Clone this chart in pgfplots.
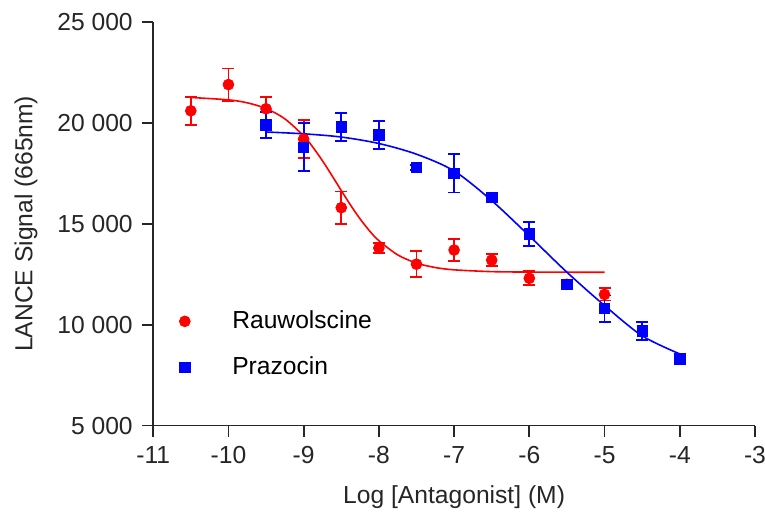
\documentclass[border=0pt]{standalone}
\usepackage{fontspec}
\setmainfont{Liberation Sans}
\usepackage{pgfplots}
\pgfplotsset{compat=1.18}

\pgfplotstableread{
x     y      e
-10.5 20600  700
-10   21900  800
-9.5  20700  600
-9    19200  950
-8.5  15800  800
-8    13800  250
-7.5  13000  650
-7    13700  550
-6.5  13200  300
-6    12300  350
-5.5  12000  200
-5    11500  300
}\rauw

\pgfplotstableread{
x     y      e
-9.5  19900  650
-9    18800  1200
-8.5  19800  700
-8    19400  700
-7.5  17800  120
-7    17500  950
-6.5  16300  150
-6    14500  600
-5.5  12000  200
-5    10800  650
-4.5  9700   450
-4    8300   100
}\praz

\begin{document}
\begin{tikzpicture}
\begin{axis}[
    scale only axis,
    width=300.5pt, height=201.5pt,
    xmin=-11, xmax=-3, ymin=5000, ymax=25000,
    scaled ticks=false,
    axis lines=left,
    axis line style={-, line width=0.9pt, black!85},
    tick style={line width=0.9pt, black!85},
    tick align=outside,
    major tick length=5.5pt,
    xtick={-11,-10,...,-3},
    xticklabels={-11,-10,-9,-8,-7,-6,-5,-4,-3},
    ytick={5000,10000,15000,20000,25000},
    yticklabels={5 000,10 000,15 000,20 000,25 000},
    every tick label/.append style={font=\fontsize{12.3}{14}\selectfont, text=black!85},
    xticklabel style={yshift=-1.5pt},
    yticklabel style={xshift=-1.2pt},
    xlabel={Log [Antagonist] (M)},
    ylabel={LANCE Signal (665nm)},
    label style={font=\fontsize{12.3}{14}\selectfont, text=black!85},
    xlabel style={yshift=-4pt},
    ylabel style={yshift=3pt},
    clip=false,
    legend style={draw=none, fill=none, at={(axis cs:-10.75,11000)}, anchor=north west,
        font=\fontsize{12.3}{14}\selectfont, row sep=10.5pt,
        nodes={inner sep=1pt}},
    legend cell align=left,
    legend image code/.code={\draw[#1] plot coordinates {(0pt,0pt)}; \path (-3pt,0pt) (22.5pt,0pt);},
]
\coordinate (ll) at (rel axis cs:0,0);
\coordinate (ur) at (rel axis cs:1,1);
% fitted curves
\addplot[red, line width=0.8pt, smooth, forget plot] coordinates {
(-10.5,21261) (-10,21143) (-9.75,20996) (-9.5,20713) (-9.25,20203) (-9,19355)
(-8.875,18784) (-8.75,18124) (-8.625,17398) (-8.5,16650) (-8.375,15917)
(-8.25,15243) (-8.125,14653) (-8,14164) (-7.75,13460) (-7.5,13053)
(-7.25,12833) (-7,12719) (-6.5,12630) (-6,12608) (-5.5,12602) (-5,12600)
};
\addplot[blue, line width=0.8pt, smooth, forget plot] coordinates {
(-9.5,19550) (-9,19460) (-8.5,19300) (-8,18980) (-7.5,18450) (-7,17620)
(-6.5,16150) (-6,14400) (-5.5,12600) (-5,10950) (-4.5,9450) (-4,8550)
};
% data
\addplot[only marks, red, mark=*, mark size=2.7pt,
    error bars/.cd, y dir=both, y explicit,
    error bar style={line width=0.9pt},
    error mark options={rotate=90, mark size=3pt, line width=0.9pt}]
    table[x=x, y=y, y error=e] {\rauw};
\addlegendentry{Rauwolscine}
\addplot[only marks, blue, mark=square*, mark size=2.6pt,
    error bars/.cd, y dir=both, y explicit,
    error bar style={line width=0.9pt},
    error mark options={rotate=90, mark size=3pt, line width=0.9pt}]
    table[x=x, y=y, y error=e] {\praz};
\addlegendentry{Prazocin}
\end{axis}
\pgfresetboundingbox
\path[use as bounding box] ([xshift=-76.5pt,yshift=-45pt]ll) rectangle ([xshift=5pt,yshift=11pt]ur);
\end{tikzpicture}
\end{document}
